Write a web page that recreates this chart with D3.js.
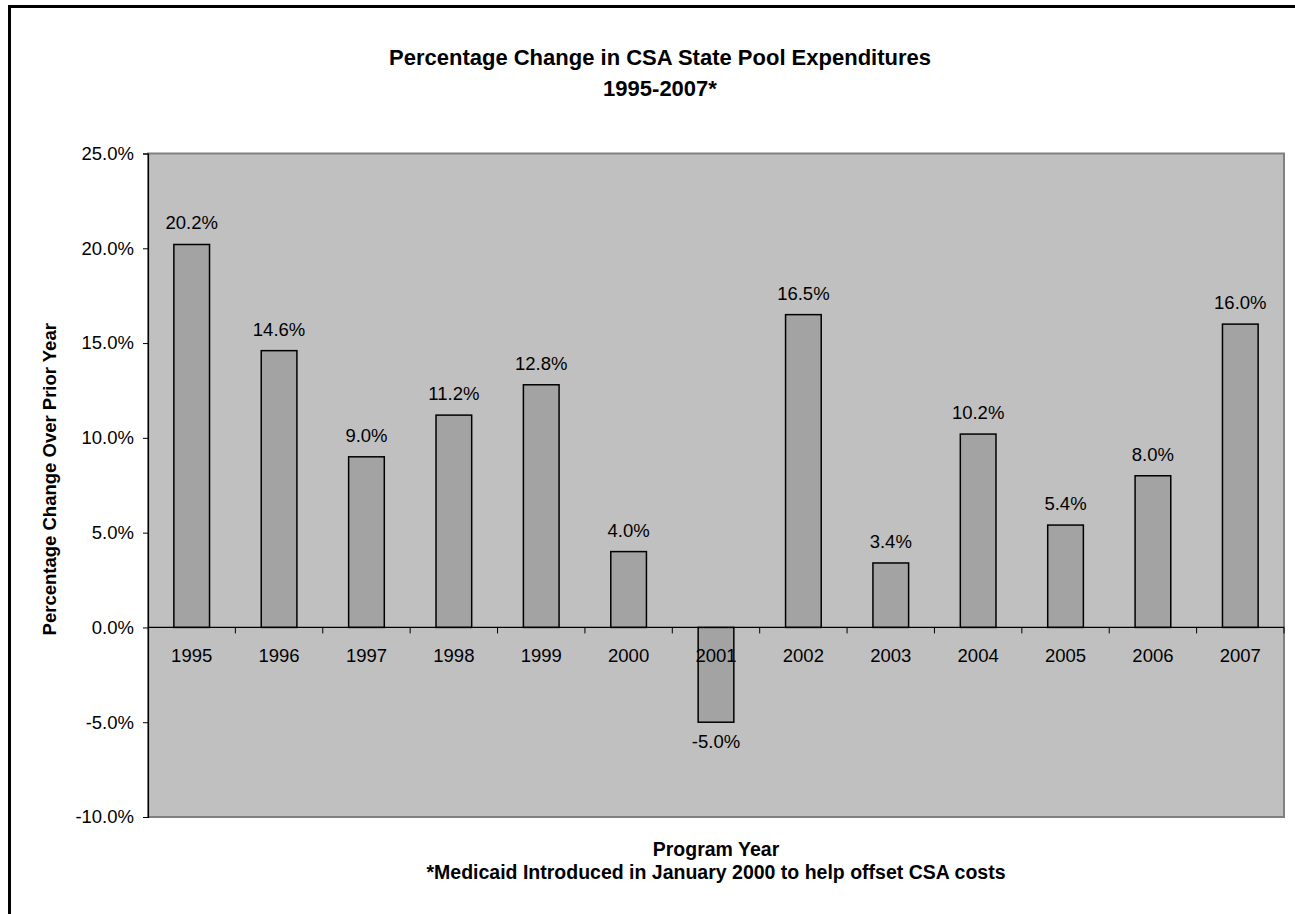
<!DOCTYPE html>
<html>
<head>
<meta charset="utf-8">
<script src="https://cdn.jsdelivr.net/npm/d3@7"></script>
<style>
  html, body { margin: 0; padding: 0; background: #fff; }
  svg { display: block; font-family: "Liberation Sans", Arial, sans-serif; }
</style>
</head>
<body>
<svg id="chart" width="1295" height="914"></svg>
<script>
// Program years and year-over-year change in CSA state pool expenditures (%)
const years = ["1995","1996","1997","1998","1999","2000","2001","2002","2003","2004","2005","2006","2007"];
const pctChange = [20.2, 14.6, 9.0, 11.2, 12.8, 4.0, -5.0, 16.5, 3.4, 10.2, 5.4, 8.0, 16.0];
const yTicks = [-10, -5, 0, 5, 10, 15, 20, 25];

const titleLines = ["Percentage Change in CSA State Pool Expenditures", "1995-2007*"];
const yTitle = "Percentage Change Over Prior Year";
const xTitle = "Program Year";
const footnote = "*Medicaid Introduced in January 2000 to help offset CSA costs";

// percent with one decimal and a plain hyphen for negatives
const pct = v => d3.format(".1f")(v).replace("\u2212", "-") + "%";

const svg = d3.select("#chart");
const plot = { left: 148, top: 153.5, right: 1284, bottom: 817 };

// chart-area frame (left and top edges are in view)
svg.append("rect")
  .attr("x", 9.5).attr("y", 6.5)
  .attr("width", 1400).attr("height", 1000)
  .attr("fill", "none").attr("stroke", "#000").attr("stroke-width", 3);

const x = d3.scaleBand().domain(years).range([plot.left, plot.right]).paddingInner(0).paddingOuter(0);
const y = d3.scaleLinear().domain([-10, 25]).range([plot.bottom, plot.top]);
const barW = x.bandwidth() / 2.45;

// plot area background
svg.append("rect")
  .attr("x", plot.left).attr("y", plot.top)
  .attr("width", plot.right - plot.left).attr("height", plot.bottom - plot.top)
  .attr("fill", "#c0c0c0").attr("stroke", "#808080").attr("stroke-width", 2);

// bars
svg.append("g").selectAll("rect")
  .data(years.map((yr, i) => ({ yr, v: pctChange[i] })))
  .join("rect")
  .attr("x", d => x(d.yr) + x.bandwidth() / 2 - barW / 2)
  .attr("y", d => y(Math.max(0, d.v)))
  .attr("width", barW)
  .attr("height", d => Math.abs(y(d.v) - y(0)))
  .attr("fill", "#a3a3a3")
  .attr("stroke", "#000")
  .attr("stroke-width", 1.5);

// y axis
const yAxis = svg.append("g")
  .attr("transform", `translate(${plot.left},0)`)
  .call(d3.axisLeft(y).tickValues(yTicks).tickSize(5).tickPadding(9).tickFormat(pct));
yAxis.select(".domain").attr("stroke", "#000").attr("stroke-width", 1.2);
yAxis.selectAll(".tick line").attr("stroke", "#000");
yAxis.selectAll(".tick text")
  .attr("font-size", 18.5).attr("fill", "#000")
  .attr("font-family", "'Liberation Sans', Arial, sans-serif");

// category axis along zero line, ticks between categories
const xAxisG = svg.append("g").attr("transform", `translate(0,${y(0)})`);
xAxisG.append("line")
  .attr("x1", plot.left).attr("x2", plot.right)
  .attr("stroke", "#000").attr("stroke-width", 1.2);
xAxisG.selectAll("line.tk")
  .data(d3.range(1, years.length + 1))
  .join("line").attr("class", "tk")
  .attr("x1", i => plot.left + i * x.step()).attr("x2", i => plot.left + i * x.step())
  .attr("y1", 0).attr("y2", 6)
  .attr("stroke", "#000");
xAxisG.selectAll("text")
  .data(years)
  .join("text")
  .attr("x", d => x(d) + x.bandwidth() / 2)
  .attr("y", 34.5)
  .attr("text-anchor", "middle")
  .attr("font-size", 18.5)
  .text(d => d);

// value labels
svg.append("g").selectAll("text")
  .data(years.map((yr, i) => ({ yr, v: pctChange[i] })))
  .join("text")
  .attr("x", d => x(d.yr) + x.bandwidth() / 2)
  .attr("y", d => d.v >= 0 ? y(d.v) - 15 : y(d.v) + 26)
  .attr("text-anchor", "middle")
  .attr("font-size", 18.5)
  .text(d => pct(d.v));

// titles
svg.append("g").selectAll("text")
  .data(titleLines)
  .join("text")
  .attr("x", 660)
  .attr("y", (d, i) => 65 + i * 31)
  .attr("text-anchor", "middle")
  .attr("font-size", 22)
  .attr("font-weight", "bold")
  .text(d => d);

svg.append("text")
  .attr("transform", `translate(56,${(plot.top + plot.bottom) / 2 - 6}) rotate(-90)`)
  .attr("text-anchor", "middle")
  .attr("font-size", 18.5)
  .attr("font-weight", "bold")
  .text(yTitle);

svg.append("text")
  .attr("x", (plot.left + plot.right) / 2)
  .attr("y", 856)
  .attr("text-anchor", "middle")
  .attr("font-size", 19.5)
  .attr("font-weight", "bold")
  .text(xTitle);

svg.append("text")
  .attr("x", (plot.left + plot.right) / 2)
  .attr("y", 879)
  .attr("text-anchor", "middle")
  .attr("font-size", 19.5)
  .attr("font-weight", "bold")
  .text(footnote);
</script>
</body>
</html>
